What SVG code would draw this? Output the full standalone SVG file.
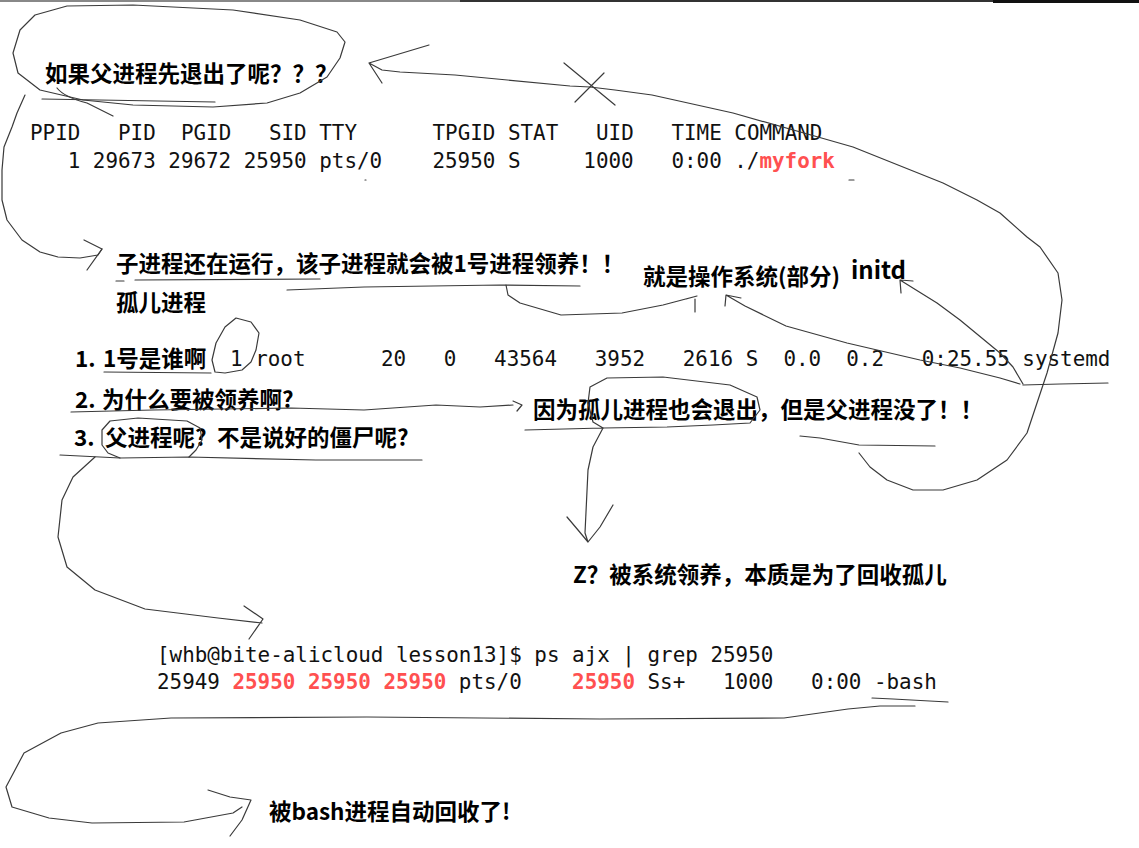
<svg xmlns="http://www.w3.org/2000/svg" width="1139" height="848" viewBox="0 0 1139 848">
<style>
.cn{font-family:'Noto Sans CJK SC','Noto Sans CJK JP',sans-serif;font-weight:700;font-size:22.5px;fill:#000}
.mono{font-family:'DejaVu Sans Mono','Liberation Mono',monospace;font-size:20.9px;fill:#111;white-space:pre}
.red{fill:#ff5050;font-weight:700}
.ink{fill:none;stroke:#3a3a3a;stroke-width:1.2;stroke-linejoin:round;stroke-linecap:round}
</style>
<rect width="1139" height="848" fill="#fff"/>
<g id="border">
<line x1="0" y1="1" x2="460" y2="1" stroke="#888" stroke-width="2"/>
<line x1="460" y1="1" x2="993" y2="1" stroke="#333" stroke-width="2"/>
<line x1="993" y1="1.5" x2="1139" y2="1.5" stroke="#111" stroke-width="3"/>
</g>
<g id="q-title"><text class="cn" x="45" y="82">如果父进程先退出了呢？？？</text></g>
<g id="ps-top">
<text class="mono" x="30" y="140" xml:space="preserve">PPID   PID  PGID   SID TTY      TPGID STAT   UID   TIME COMMAND</text>
<text class="mono" x="67.7" y="168" xml:space="preserve">1 29673 29672 25950 pts/0    25950 S     1000   0:00 ./<tspan class="red">myfork</tspan></text>
</g>
<g id="n-adopt"><text class="cn" x="116" y="272">子进程还在运行，该子进程就会被1号进程领养！！</text></g>
<g id="n-orphan"><text class="cn" x="116" y="311">孤儿进程</text></g>
<g id="n-os"><text class="cn" x="643" y="285">就是操作系统(部分)</text><text class="cn" x="851" y="279" style="font-size:24px">initd</text></g>
<g id="q1"><text class="cn" x="75" y="367">1.</text><text class="cn" x="103" y="367">1号是谁啊</text></g>
<g id="ps-systemd"><text class="mono" x="230" y="366" xml:space="preserve">1 root      20   0   43564   3952   2616 S  0.0  0.2   0:25.55 systemd</text></g>
<g id="q2"><text class="cn" x="75" y="408">2.</text><text class="cn" x="102" y="408">为什么要被领养啊?</text></g>
<g id="q3"><text class="cn" x="74" y="446">3.</text><text class="cn" x="105" y="446">父进程呢?</text><text class="cn" x="217" y="446">不是说好的僵尸呢?</text></g>
<g id="n-because"><text class="cn" x="533" y="418">因为孤儿进程也会退出，但是父进程没了！！</text></g>
<g id="n-z"><text class="cn" x="573" y="583">Z？被系统领养，本质是为了回收孤儿</text></g>
<g id="ps-bash">
<text class="mono" x="157" y="662" xml:space="preserve">[whb@bite-alicloud lesson13]$ ps ajx | grep 25950</text>
<text class="mono" x="157" y="689" xml:space="preserve">25949 <tspan class="red">25950 25950 25950</tspan> pts/0    <tspan class="red">25950</tspan> Ss+   1000   0:00 -bash</text>
</g>
<g id="n-bash"><text class="cn" x="269" y="820">被bash进程自动回收了!</text></g>
<g id="connectors" class="ink">
<path d="M35,15 L67,6 L133,5 L233,10 L300,20 L337,32 L345,42 L340,58 L327,77 L300,93 L267,103 L213,107 L133,105 L83,100 L40,90 L18,73 L13,53 L20,30 Z"/>
<path d="M42,99 L215,102"/>
<path d="M57,88 Q64,97 87,103 L113,116"/>
<path d="M25,95 L17,113 L12,127 L4,147 L2,170 L2,200 L7,220 L22,240 L40,252 L58,257 L80,258 L98,255 L102,249"/>
<path d="M84,240 L102,249 L87,270"/>
<path d="M116,281 L124,281 M135,280 L320,279"/>
<path d="M287,290 L364,287 L500,285 L580,286"/>
<path d="M506,285 L508,295 L520,303 L561,315 L622,313 L663,305 L697,296 M686,299 L697,296 M695,299 L695,312"/>
<path d="M1020,384 L1000,378 L960,368 L920,360 L847,343 L786,326 L745,306 L726,295 L741,298 M726,295 L725,306"/>
<path d="M1023,384 L1013,367 L1000,353 L960,320 L937,303 L900,280 L913,281 M900,280 L901,293"/>
<path d="M1023,385 L1060,384 L1108,383"/>
<path d="M859,453 L870,467 L887,480 L913,490 L943,490 L977,480 L1007,460 L1027,433 L1037,403 L1047,373 L1058,333 L1062,300 L1058,273 L1040,247 L1027,237 L1000,213 L977,200 L943,183 L853,147 L818,137 L733,113 L652,95 L615,90 L590,87 L570,86 L455,75 L400,72 L382,70 L369,63 L429,45 M369,63 L382,83"/>
<path d="M564,63 L615,105 M575,102 L590,87 L604,73"/>
<path d="M225,327 L236,318 L251,322 L259,333 L256,350 L251,362 L242,370 L225,373 L215,372 L212,360 L216,343 L225,327"/>
<path d="M104,372 L211,373"/>
<path d="M71,412 L153,410 L291,408 L364,410 L436,405 L480,407 L513,405 M513,401 L522,405 L517,411"/>
<path d="M120,458 L108,453 L102,445 L102,430 L110,421 L138,418 L187,421 L200,428 L202,440 L196,450 L189,457"/>
<path d="M60,455 L120,458 L189,457 L316,460 L422,460"/>
<path d="M95,457 L73,477 L62,500 L58,537 L67,567 L95,590 L145,609 L218,618 L262,623 M244,606 L263,619 L249,639"/>
<path d="M603,428 L593,422 L588,403 L590,387 L607,378 L663,377 L730,385 L757,397 L760,410 L750,423 L713,425 L667,427 L603,428 L525,430"/>
<path d="M603,428 L593,447 L588,470 L585,533 L588,542 M567,517 L578,530 L588,542 L600,527 L613,505"/>
<path d="M800,436 L820,438 L859,445 L935,446"/>
<path d="M872,698 L893,699 L948,702"/>
<path d="M915,706 L880,706 L848,709 L784,718 L600,719 L367,717 L171,718 L98,723 L61,733 L24,753 L6,787 L12,807 L49,818 L92,823 L184,822 L233,813 L242,807 M208,790 L230,797 L251,800 L242,820 L230,836"/>
<path d="M849,180 L854,180 M365,180 L366,180"/>
</g>
</svg>
